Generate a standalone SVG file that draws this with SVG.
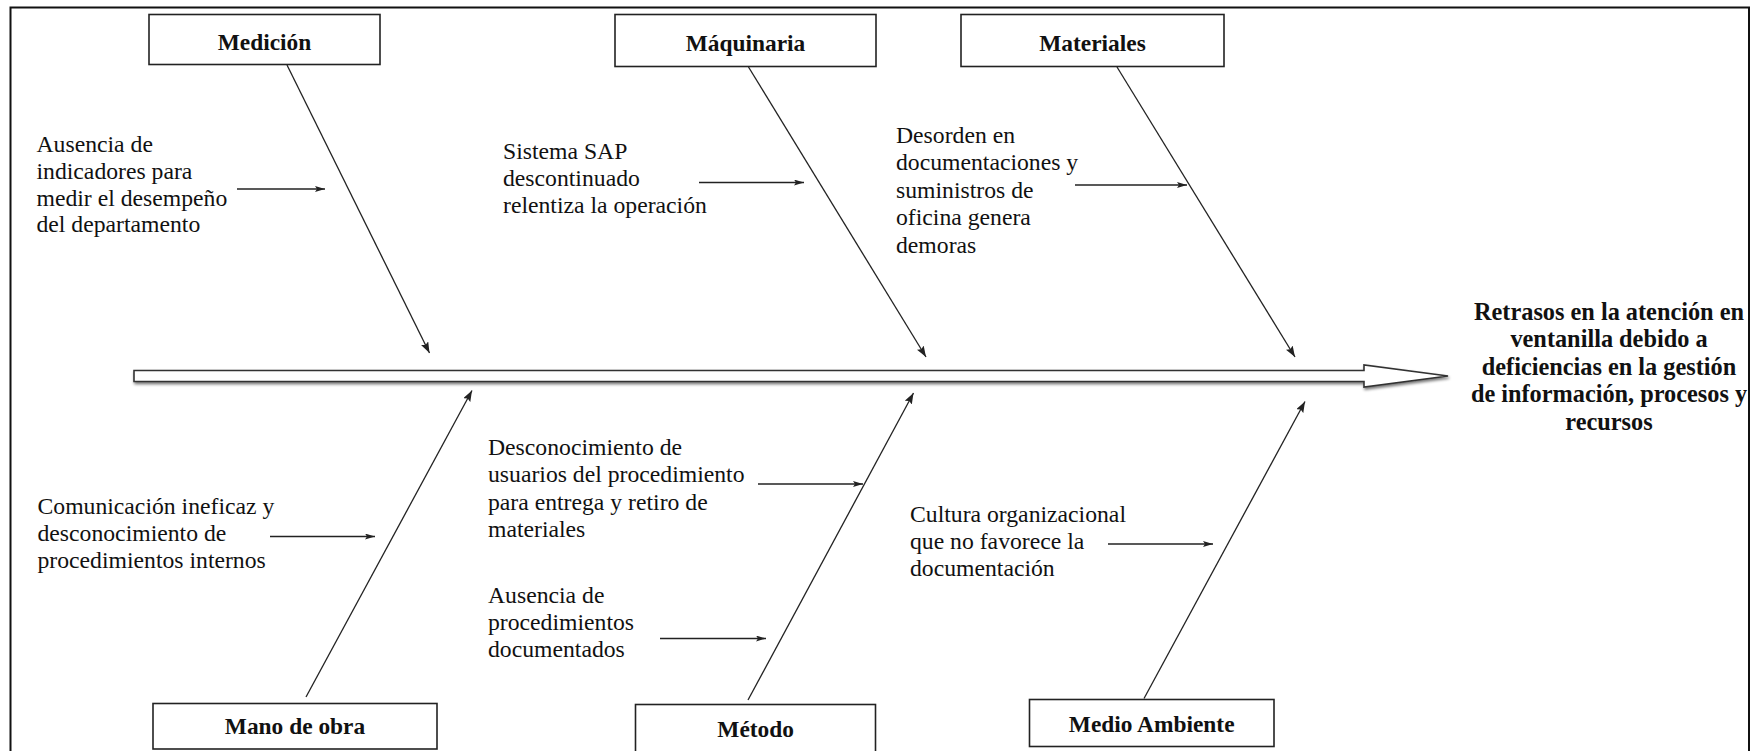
<svg xmlns="http://www.w3.org/2000/svg" width="1757" height="751" viewBox="0 0 1757 751">
  <style>
    .frame { fill: none; stroke: #111; stroke-width: 2; }
    .box { fill: #fff; stroke: #222; stroke-width: 1.6; }
    .label { font-family: "Liberation Serif", "Times New Roman", serif; font-weight: bold; font-size: 23.4px; fill: #111; text-anchor: middle; }
    .cause { font-family: "Liberation Serif", "Times New Roman", serif; font-size: 23.7px; fill: #111; }
    .effect { font-family: "Liberation Serif", "Times New Roman", serif; font-weight: bold; font-size: 24.3px; fill: #111; text-anchor: middle; }
    .bone { fill: none; stroke: #222; stroke-width: 1.3; marker-end: url(#head); }
    .sub { fill: none; stroke: #222; stroke-width: 1.3; marker-end: url(#headSmall); }
    .spine { fill: #fff; stroke: #333; stroke-width: 1.6; filter: url(#shade); }
  </style>
  <defs>
    <marker id="head" markerUnits="userSpaceOnUse" markerWidth="11" markerHeight="8" refX="11" refY="4" orient="auto">
      <path d="M0,0 L11,4 L0,8 L2,4 Z" fill="#222"/>
    </marker>
    <marker id="headSmall" markerUnits="userSpaceOnUse" markerWidth="10" markerHeight="6" refX="10" refY="3" orient="auto">
      <path d="M0,0 L10,3 L0,6 L2,3 Z" fill="#222"/>
    </marker>
    <filter id="shade" x="-5%" y="-50%" width="110%" height="200%">
      <feGaussianBlur in="SourceAlpha" stdDeviation="1.6"/>
      <feOffset dx="1" dy="2" result="blur"/>
      <feComponentTransfer><feFuncA type="linear" slope="0.55"/></feComponentTransfer>
      <feMerge><feMergeNode/><feMergeNode in="SourceGraphic"/></feMerge>
    </filter>
  </defs>

  <rect width="1757" height="751" fill="#fff"/>
  <path class="frame" d="M10.5,752 V7.5 H1749 V752"/>

  <!-- main spine arrow toward the effect -->
  <g id="spine">
    <path class="spine" d="M134,370.5 H1364 V365 L1448,376 L1364,387 V381.5 H134 Z"/>
  </g>

  <!-- category bones and cause arrows -->
  <g id="connectors">
    <line class="bone" x1="287" y1="65" x2="429.5" y2="353"/>
    <line class="bone" x1="748.5" y1="67" x2="926" y2="357"/>
    <line class="bone" x1="1117" y1="67" x2="1295" y2="357"/>
    <line class="bone" x1="306" y1="697" x2="472" y2="390.5"/>
    <line class="bone" x1="748" y1="700" x2="913.5" y2="393"/>
    <line class="bone" x1="1144" y1="698.5" x2="1305" y2="401.5"/>

    <line class="sub" x1="237" y1="189" x2="325" y2="189"/>
    <line class="sub" x1="699" y1="182.5" x2="804" y2="182.5"/>
    <line class="sub" x1="1075" y1="185" x2="1187" y2="185"/>
    <line class="sub" x1="270" y1="536.5" x2="375" y2="536.5"/>
    <line class="sub" x1="758" y1="484" x2="863" y2="484"/>
    <line class="sub" x1="660" y1="638.5" x2="766" y2="638.5"/>
    <line class="sub" x1="1108" y1="544" x2="1213" y2="544"/>
  </g>

  <!-- category boxes -->
  <g id="medicion">
    <rect class="box" x="149" y="14.5" width="231" height="50"/>
    <text class="label" x="264.5" y="49.5">Medición</text>
  </g>
  <g id="maquinaria">
    <rect class="box" x="615" y="14.5" width="261" height="52"/>
    <text class="label" x="745.5" y="50.5">Máquinaria</text>
  </g>
  <g id="materiales">
    <rect class="box" x="961" y="14.5" width="263" height="52"/>
    <text class="label" x="1092.5" y="50.5">Materiales</text>
  </g>
  <g id="mano-de-obra">
    <rect class="box" x="153" y="703.5" width="284" height="45.5"/>
    <text class="label" x="295" y="734">Mano de obra</text>
  </g>
  <g id="metodo">
    <rect class="box" x="635.5" y="704.5" width="240" height="52"/>
    <text class="label" x="755.7" y="736.7">Método</text>
  </g>
  <g id="medio-ambiente">
    <rect class="box" x="1029.5" y="699.5" width="244.5" height="47"/>
    <text class="label" x="1151.7" y="731.7">Medio Ambiente</text>
  </g>

  <!-- causes -->
  <g id="causa-medicion">
    <text class="cause" x="36.5" y="152">Ausencia de</text>
    <text class="cause" x="36.5" y="178.8">indicadores para</text>
    <text class="cause" x="36.5" y="205.6">medir el desempeño</text>
    <text class="cause" x="36.5" y="232.4">del departamento</text>
  </g>
  <g id="causa-maquinaria">
    <text class="cause" x="503" y="158.5">Sistema SAP</text>
    <text class="cause" x="503" y="185.5">descontinuado</text>
    <text class="cause" x="503" y="212.5">relentiza la operación</text>
  </g>
  <g id="causa-materiales">
    <text class="cause" x="896" y="143">Desorden en</text>
    <text class="cause" x="896" y="170.4">documentaciones y</text>
    <text class="cause" x="896" y="197.8">suministros de</text>
    <text class="cause" x="896" y="225.2">oficina genera</text>
    <text class="cause" x="896" y="252.6">demoras</text>
  </g>
  <g id="causa-mano-de-obra">
    <text class="cause" x="37.5" y="514">Comunicación ineficaz y</text>
    <text class="cause" x="37.5" y="541">desconocimiento de</text>
    <text class="cause" x="37.5" y="568">procedimientos internos</text>
  </g>
  <g id="causa-metodo-1">
    <text class="cause" x="488" y="455">Desconocimiento de</text>
    <text class="cause" x="488" y="482.3">usuarios del procedimiento</text>
    <text class="cause" x="488" y="509.6">para entrega y retiro de</text>
    <text class="cause" x="488" y="536.9">materiales</text>
  </g>
  <g id="causa-metodo-2">
    <text class="cause" x="488" y="602.5">Ausencia de</text>
    <text class="cause" x="488" y="629.5">procedimientos</text>
    <text class="cause" x="488" y="656.5">documentados</text>
  </g>
  <g id="causa-medio-ambiente">
    <text class="cause" x="910" y="521.7">Cultura organizacional</text>
    <text class="cause" x="910" y="548.7">que no favorece la</text>
    <text class="cause" x="910" y="575.7">documentación</text>
  </g>

  <!-- effect -->
  <g id="efecto">
    <text class="effect" x="1609" y="320">Retrasos en la atención en</text>
    <text class="effect" x="1609" y="347.4">ventanilla debido a</text>
    <text class="effect" x="1609" y="374.8">deficiencias en la gestión</text>
    <text class="effect" x="1609" y="402.2">de información, procesos y</text>
    <text class="effect" x="1609" y="429.6">recursos</text>
  </g>
</svg>
